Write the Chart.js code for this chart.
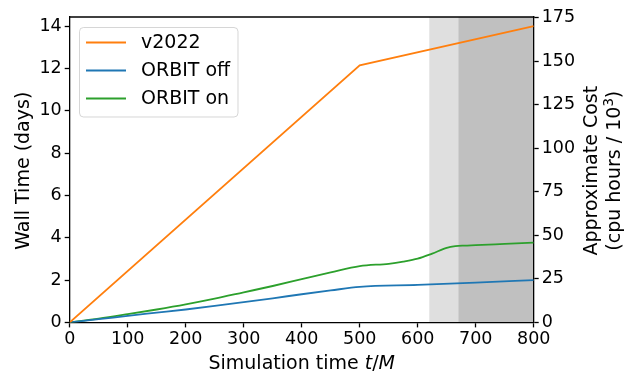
<!DOCTYPE html>
<html>
<head>
<meta charset="utf-8">
<script src="https://cdn.jsdelivr.net/npm/chart.js@4/dist/chart.umd.min.js"></script>
<style>html,body{margin:0;padding:0;background:#fff;}canvas{display:block;}</style>
</head>
<body>
<canvas id="c" width="638" height="372"></canvas>
<script>
// ---- data ----
const seriesNames = ['v2022', 'ORBIT off', 'ORBIT on'];
const v2022T = [0, 500, 800];
const v2022 = [0, 12.15, 14.0];
const orbitOffT = [0, 50, 100, 150, 200, 250, 300, 350, 400, 450, 500, 600, 700, 800];
const orbitOff = [0, 0.15, 0.31, 0.46, 0.61, 0.78, 0.96, 1.14, 1.33, 1.51, 1.68, 1.77, 1.88, 2.0];
const orbitOnT = [0, 50, 100, 150, 200, 250, 300, 350, 400, 450, 500, 550, 575, 600, 625, 650, 665, 680, 700, 750, 800];
const orbitOn = [0, 0.18, 0.39, 0.61, 0.85, 1.12, 1.42, 1.72, 2.04, 2.36, 2.66, 2.77, 2.87, 3.01, 3.25, 3.52, 3.60, 3.63, 3.65, 3.71, 3.77];
const shadeBands = [[620, 670], [670, 800]];
const xTicks = [0, 100, 200, 300, 400, 500, 600, 700, 800];
const yTicks = [0, 2, 4, 6, 8, 10, 12, 14];
const y2Ticks = [0, 25, 50, 75, 100, 125, 150, 175];
const xMax = 800, yMax = 14.43, y2Max = 175.3;

const pts = (xs, ys) => xs.map((x, i) => ({x: x, y: ys[i]}));
const FONT = 'DejaVu Sans';
const FS = 17.5;   // tick labels
const FT = 19;     // titles and legend
const colors = ['#ff7f0e', '#1f77b4', '#2ca02c'];
const shadeColors = ['#dfdfdf', '#c0c0c0'];

const decor = {
  id: 'decor',
  beforeDraw(chart) {
    const ctx = chart.ctx, a = chart.chartArea, xs = chart.scales.x;
    ctx.save();
    ctx.fillStyle = '#fff';
    ctx.fillRect(0, 0, chart.width, chart.height);
    shadeBands.forEach((b, i) => {
      const x0 = xs.getPixelForValue(b[0]), x1 = xs.getPixelForValue(b[1]);
      ctx.fillStyle = shadeColors[i];
      ctx.fillRect(x0, a.top, x1 - x0, a.bottom - a.top);
    });
    ctx.restore();
  },
  afterDraw(chart) {
    const ctx = chart.ctx, a = chart.chartArea;
    ctx.save();
    // top spine
    ctx.strokeStyle = '#000';
    ctx.lineWidth = 1.3;
    ctx.beginPath();
    ctx.moveTo(a.left - 0.65, a.top);
    ctx.lineTo(a.right + 0.65, a.top);
    ctx.stroke();

    // axis titles
    ctx.fillStyle = '#000';
    ctx.textBaseline = 'alphabetic';
    const parts = [['Simulation time ', ''], ['t', 'italic '], ['/', ''], ['M', 'italic ']];
    let total = 0;
    parts.forEach(p => { ctx.font = p[1] + FT + 'px "' + FONT + '"'; total += ctx.measureText(p[0]).width; });
    let x = (a.left + a.right) / 2 - total / 2;
    ctx.textAlign = 'left';
    parts.forEach(p => { ctx.font = p[1] + FT + 'px "' + FONT + '"'; ctx.fillText(p[0], x, 368.5); x += ctx.measureText(p[0]).width; });

    const cy = (a.top + a.bottom) / 2 + 1;
    ctx.save();
    ctx.translate(29, cy);
    ctx.rotate(-Math.PI / 2);
    ctx.font = FT + 'px "' + FONT + '"';
    ctx.textAlign = 'center';
    ctx.fillText('Wall Time (days)', 0, 0);
    ctx.restore();

    ctx.save();
    ctx.translate(597, cy);
    ctx.rotate(-Math.PI / 2);
    ctx.font = FT + 'px "' + FONT + '"';
    ctx.textAlign = 'center';
    ctx.fillText('Approximate Cost', 0, 0);
    ctx.restore();

    ctx.save();
    ctx.translate(620, cy);
    ctx.rotate(-Math.PI / 2);
    ctx.textAlign = 'left';
    const s1 = '(cpu hours / 10', s2 = '3', s3 = ')';
    ctx.font = FT + 'px "' + FONT + '"';
    const w1 = ctx.measureText(s1).width, w3 = ctx.measureText(s3).width;
    ctx.font = (FT * 0.7) + 'px "' + FONT + '"';
    const w2 = ctx.measureText(s2).width;
    let sx = -(w1 + w2 + w3) / 2;
    ctx.font = FT + 'px "' + FONT + '"';
    ctx.fillText(s1, sx, 0); sx += w1;
    ctx.font = (FT * 0.7) + 'px "' + FONT + '"';
    ctx.fillText(s2, sx, -7); sx += w2;
    ctx.font = FT + 'px "' + FONT + '"';
    ctx.fillText(s3, sx, 0);
    ctx.restore();

    // legend
    const lx = 79.5, ly = 27.5, lw = 158.5, lh = 89.5, r = 4;
    ctx.beginPath();
    ctx.moveTo(lx + r, ly);
    ctx.arcTo(lx + lw, ly, lx + lw, ly + lh, r);
    ctx.arcTo(lx + lw, ly + lh, lx, ly + lh, r);
    ctx.arcTo(lx, ly + lh, lx, ly, r);
    ctx.arcTo(lx, ly, lx + lw, ly, r);
    ctx.closePath();
    ctx.fillStyle = 'rgba(255,255,255,0.8)';
    ctx.fill();
    ctx.strokeStyle = 'rgba(204,204,204,0.8)';
    ctx.lineWidth = 1;
    ctx.stroke();
    ctx.font = FT + 'px "' + FONT + '"';
    ctx.textAlign = 'left';
    ctx.textBaseline = 'middle';
    chart.data.datasets.forEach((ds, i) => {
      const yy = 42.5 + i * 28;
      ctx.strokeStyle = ds.borderColor;
      ctx.lineWidth = 1.8;
      ctx.beginPath();
      ctx.moveTo(86, yy);
      ctx.lineTo(126, yy);
      ctx.stroke();
      ctx.fillStyle = '#000';
      ctx.fillText(ds.label, 141, yy + 1);
    });
    ctx.restore();
  }
};

const axisCommon = {
  border: {display: true, color: '#000', width: 1.3},
  grid: {display: true, drawOnChartArea: false, drawTicks: true, tickLength: 5, tickColor: '#000', tickWidth: 1.3},
};
const fixTicks = list => (s => { s.ticks = list.map(v => ({value: v})); });

new Chart(document.getElementById('c'), {
  type: 'line',
  data: {
    datasets: [
      {label: seriesNames[0], data: pts(v2022T, v2022), borderColor: colors[0], tension: 0},
      {label: seriesNames[1], data: pts(orbitOffT, orbitOff), borderColor: colors[1], cubicInterpolationMode: 'monotone'},
      {label: seriesNames[2], data: pts(orbitOnT, orbitOn), borderColor: colors[2], cubicInterpolationMode: 'monotone'}
    ].map(d => Object.assign(d, {borderWidth: 1.8, pointRadius: 0, fill: false, yAxisID: 'y'}))
  },
  options: {
    responsive: false,
    animation: false,
    devicePixelRatio: 1,
    layout: {padding: {top: 17, left: 0, right: 0, bottom: 0}},
    plugins: {legend: {display: false}, tooltip: {enabled: false}},
    scales: {
      x: Object.assign({
        type: 'linear', min: 0, max: xMax,
        afterFit: s => { s.height = 49.6; },
        afterBuildTicks: fixTicks(xTicks),
        ticks: {color: '#000', font: {family: FONT, size: FS}, padding: 2, maxRotation: 0}
      }, axisCommon),
      y: Object.assign({
        type: 'linear', position: 'left', min: 0, max: yMax,
        afterFit: s => { s.width = 69.7; },
        afterBuildTicks: fixTicks(yTicks),
        ticks: {color: '#000', font: {family: FONT, size: FS}, padding: 3}
      }, axisCommon),
      y2: Object.assign({
        type: 'linear', position: 'right', min: 0, max: y2Max,
        afterFit: s => { s.width = 104.3; },
        afterBuildTicks: fixTicks(y2Ticks),
        ticks: {color: '#000', font: {family: FONT, size: FS}, padding: 3}
      }, axisCommon)
    }
  },
  plugins: [decor]
});
</script>
</body>
</html>
